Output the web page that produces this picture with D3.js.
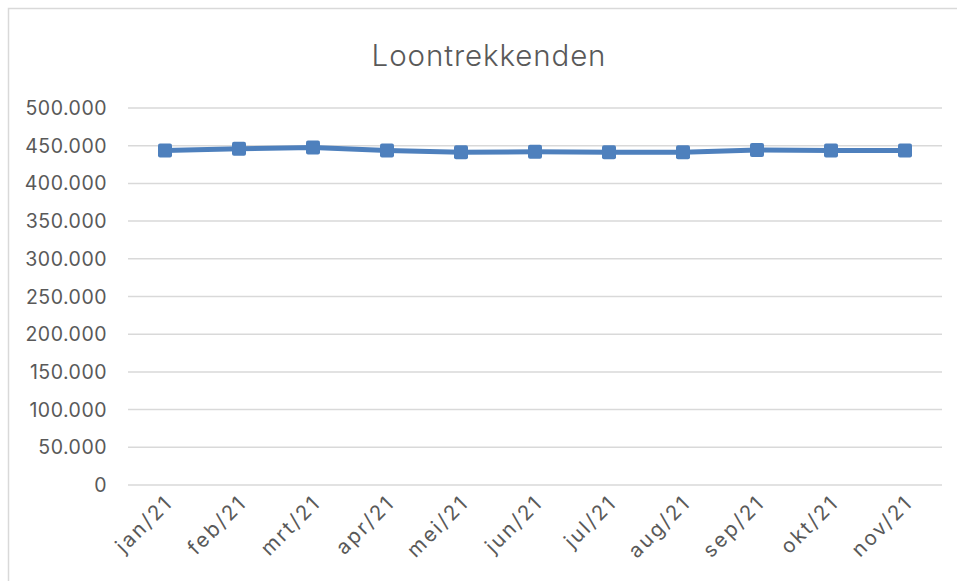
<!DOCTYPE html>
<html>
<head>
<meta charset="utf-8">
<script src="https://cdn.jsdelivr.net/npm/d3@7"></script>
<style>
  body { margin: 0; background: #fff; }
  svg text { font-family: Inter, "Open Sans", sans-serif; fill: #595959; }
</style>
</head>
<body>
<div class="chart"></div>
<script>
// data
const months = ['jan/21', 'feb/21', 'mrt/21', 'apr/21', 'mei/21', 'jun/21', 'jul/21', 'aug/21', 'sep/21', 'okt/21', 'nov/21']
const loontrekkenden = [443600, 445900, 447600, 443600, 441400, 442000, 441400, 441400, 444300, 443600, 443600]
const yTicks = [0, 50000, 100000, 150000, 200000, 250000, 300000, 350000, 400000, 450000, 500000]

const width = 957, height = 581
const blue = '#4e80bd'

let svg = d3.select('.chart')
    .append('svg')
    .attr('width', width)
    .attr('height', height)

// chart frame (runs off the right and bottom edge)
svg.append('rect')
    .attr('x', 8.5).attr('y', 8.5)
    .attr('width', 960).attr('height', 600)
    .attr('fill', '#fff')
    .attr('stroke', '#d9d9d9')
    .attr('stroke-width', 1.5)

svg.append('text')
    .attr('x', 489)
    .attr('y', 66)
    .attr('text-anchor', 'middle')
    .style('font-size', '29.5px')
    .style('font-weight', 300)
    .style('letter-spacing', '0.9px')
    .text('Loontrekkenden')

let x = d3.scaleBand().domain(months).range([128, 942])
let y = d3.scaleLinear().domain([0, 500000]).range([485, 108])

const nl = d3.formatLocale({ decimal: ',', thousands: '.', grouping: [3], currency: ['€', ''] })
const fmt = nl.format(',')

// gridlines
svg.append('g')
    .selectAll('line')
    .data(yTicks)
    .join('line')
    .attr('x1', 128).attr('x2', 942)
    .attr('y1', d => y(d)).attr('y2', d => y(d))
    .attr('stroke', '#d9d9d9')
    .attr('stroke-width', 1.5)

// y labels
svg.append('g')
    .selectAll('text')
    .data(yTicks)
    .join('text')
    .attr('x', 107)
    .attr('y', d => y(d))
    .attr('dy', '0.36em')
    .attr('text-anchor', 'end')
    .style('font-size', '19.5px')
    .style('letter-spacing', '0.5px')
    .text(d => fmt(d))

// x labels
svg.append('g')
    .selectAll('text')
    .data(months)
    .join('text')
    .attr('text-anchor', 'end')
    .attr('transform', d => `translate(${x(d) + x.bandwidth() / 2 + 9},${504}) rotate(-45)`)
    .style('font-size', '20.5px')
    .style('letter-spacing', '2.3px')
    .text(d => d)

// series
let line = d3.line()
    .x((d, i) => x(months[i]) + x.bandwidth() / 2)
    .y(d => y(d))

svg.append('path')
    .datum(loontrekkenden)
    .attr('d', line)
    .attr('fill', 'none')
    .attr('stroke', blue)
    .attr('stroke-width', 5)
    .attr('stroke-linejoin', 'round')

svg.append('g')
    .selectAll('rect')
    .data(loontrekkenden)
    .join('rect')
    .attr('x', (d, i) => x(months[i]) + x.bandwidth() / 2 - 7)
    .attr('y', d => y(d) - 7)
    .attr('width', 14)
    .attr('height', 14)
    .attr('rx', 2)
    .attr('fill', blue)
</script>
</body>
</html>
